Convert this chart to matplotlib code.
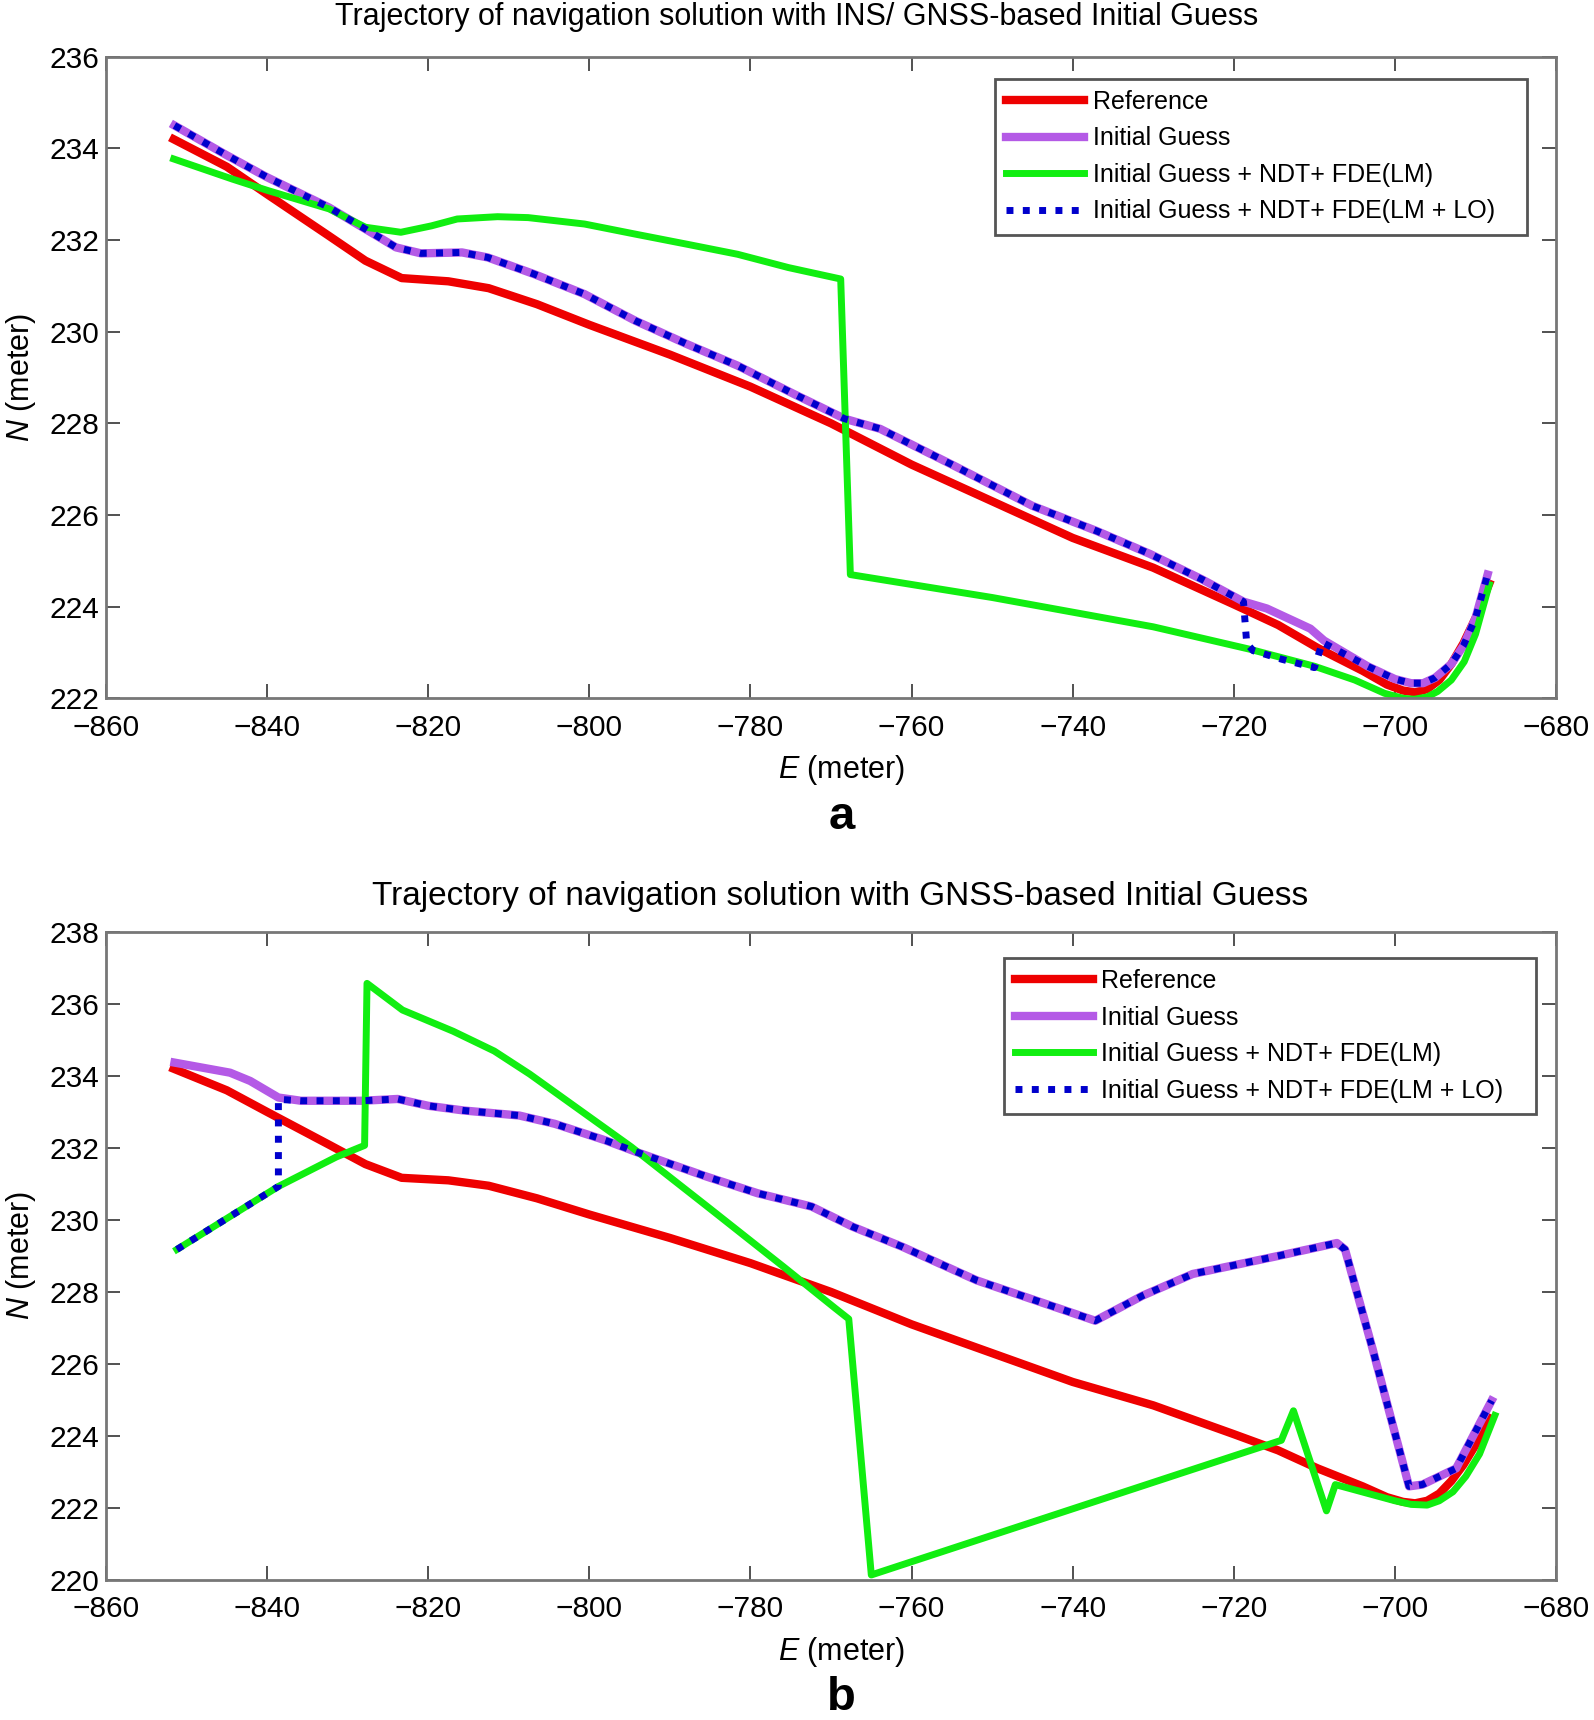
import matplotlib
matplotlib.use('Agg')
import matplotlib.pyplot as plt

plt.rcParams['font.family'] = ['Liberation Sans', 'DejaVu Sans']
plt.rcParams['mathtext.fontset'] = 'custom'
plt.rcParams['mathtext.it'] = 'Liberation Sans:italic'
plt.rcParams['mathtext.rm'] = 'Liberation Sans'

# ---- reference trajectory (same in both panels)
ref_e = [-851.6, -845, -840, -832.4, -827.8, -823.3, -817.5, -812.5, -806.5, -800,
         -790, -780, -770, -760, -750, -740, -730, -720, -714.5, -709.6,
         -704, -701, -699, -697.5, -696, -694.5, -693, -691.5, -690, -688.3]
ref_n = [234.2, 233.6, 233.0, 232.1, 231.55, 231.17, 231.1, 230.95, 230.6, 230.15,
         229.5, 228.8, 228.0, 227.1, 226.3, 225.5, 224.85, 224.05, 223.6, 223.1,
         222.6, 222.3, 222.17, 222.13, 222.2, 222.4, 222.75, 223.2, 223.75, 224.5]

# ---- panel a: INS/GNSS initial guess
a_guess_e = [-851.5, -845, -840, -832.3, -827.8, -824, -820.9, -815.8, -812.6, -806.9,
             -800.6, -794.3, -787.9, -781.6, -774.6, -768.3, -763.9, -755, -745, -737,
             -730.4, -724, -718.8, -715.9, -710.5, -708.8, -703.4, -700, -698, -696.5,
             -695, -693, -691.5, -690, -688.5]
a_guess_n = [234.5, 233.85, 233.37, 232.71, 232.24, 231.84, 231.71, 231.73, 231.62, 231.26,
             230.82, 230.24, 229.73, 229.26, 228.64, 228.1, 227.88, 227.1, 226.2, 225.65,
             225.15, 224.6, 224.11, 223.96, 223.52, 223.26, 222.7, 222.42, 222.33, 222.33,
             222.45, 222.75, 223.15, 223.75, 224.7]
a_lm_e = [-851.6, -844.3, -839.9, -832.3, -827.8, -823.4, -819.6, -816.4, -811.4, -807.6,
          -800.6, -794.3, -787.9, -781.6, -775.3, -768.8, -767.6, -750, -730, -718,
          -710, -705, -701.3, -699, -697.6, -696, -694.7, -693, -691.4, -690, -688.3]
a_lm_n = [233.77, 233.33, 233.08, 232.68, 232.28, 232.17, 232.31, 232.46, 232.51, 232.49,
          232.35, 232.13, 231.91, 231.69, 231.4, 231.15, 224.7, 224.2, 223.56, 223.07,
          222.7, 222.4, 222.11, 222.0, 221.98, 222.03, 222.15, 222.4, 222.8, 223.4, 224.48]
a_lo_e = [-851.5, -845, -840, -832.3, -827.8, -824, -820.9, -815.8, -812.6, -806.9,
          -800.6, -794.3, -787.9, -781.6, -774.6, -768.3, -763.9, -755, -745, -737,
          -730.4, -724, -718.8, -718.4, -717.6, -714, -710, -709, -703.4, -700,
          -698, -696.5, -695, -693, -691.5, -690, -688.5]
a_lo_n = [234.5, 233.85, 233.37, 232.71, 232.24, 231.84, 231.71, 231.73, 231.62, 231.26,
          230.82, 230.24, 229.73, 229.26, 228.64, 228.1, 227.88, 227.1, 226.2, 225.65,
          225.15, 224.6, 224.11, 223.2, 223.04, 222.85, 222.67, 223.22, 222.7, 222.42,
          222.33, 222.33, 222.45, 222.75, 223.15, 223.75, 224.7]

# ---- panel b: GNSS initial guess
b_guess_e = [-851.5, -844.6, -842.1, -838.6, -835.8, -828.2, -823.8, -820, -815.6, -808.7,
             -804.3, -798, -794.2, -785.4, -779.1, -772.4, -767.3, -761.1, -751.9, -737.2,
             -731.3, -725.1, -714.5, -707.2, -706.2, -702.8, -698.25, -696.6, -692.4, -689.5,
             -688.0]
b_guess_n = [234.37, 234.09, 233.86, 233.4, 233.31, 233.31, 233.36, 233.17, 233.04, 232.9,
             232.67, 232.21, 231.89, 231.2, 230.74, 230.37, 229.81, 229.25, 228.32, 227.2,
             227.9, 228.5, 229.0, 229.36, 229.18, 226.44, 222.6, 222.65, 223.1, 224.34,
             224.98]
b_lm_e = [-851.2, -838.6, -831.4, -827.9, -827.6, -823.2, -816.9, -811.8, -807.4, -801.1,
          -794.8, -785.4, -775.9, -769.5, -767.8, -765, -714.1, -712.6, -708.5, -707.4,
          -700, -698, -696, -694.5, -692.8, -691.2, -689.5, -687.6]
b_lm_n = [229.18, 230.93, 231.75, 232.07, 236.57, 235.83, 235.24, 234.69, 234.05, 233.04,
          232.03, 230.38, 228.7, 227.55, 227.25, 220.14, 223.88, 224.7, 221.92, 222.65,
          222.2, 222.1, 222.08, 222.2, 222.45, 222.88, 223.5, 224.57]
b_lo_e = [-851.2, -838.6, -838.6, -835.8, -828.2, -823.8, -820, -815.6, -808.7,
          -804.3, -798, -794.2, -785.4, -779.1, -772.4, -767.3, -761.1, -751.9, -737.2,
          -731.3, -725.1, -714.5, -707.2, -706.2, -702.8, -698.25, -696.6, -692.4, -689.5,
          -688.0]
b_lo_n = [229.18, 230.93, 233.35, 233.31, 233.31, 233.36, 233.17, 233.04, 232.9,
          232.67, 232.21, 231.89, 231.2, 230.74, 230.37, 229.81, 229.25, 228.32, 227.2,
          227.9, 228.5, 229.0, 229.36, 229.18, 226.44, 222.6, 222.65, 223.1, 224.34,
          224.98]

labels = ['Reference', 'Initial Guess', 'Initial Guess + NDT+ FDE(LM)',
          'Initial Guess + NDT+ FDE(LM + LO)']
c_ref = '#ee0000'
c_guess = '#b45ae6'
c_lm = '#11ee11'
c_lo = '#0000cc'

fig = plt.figure(figsize=(15.94, 17.2), dpi=100)
ax1 = fig.add_axes([0.0665, 0.594, 0.9097, 0.373])
ax2 = fig.add_axes([0.0665, 0.0814, 0.9097, 0.3768])


def draw(ax, ge, gn, le, ln, oe, on, ylim, leg_anchor):
    ax.plot(ref_e, ref_n, color=c_ref, lw=6, label=labels[0], solid_joinstyle='round')
    ax.plot(ge, gn, color=c_guess, lw=6, label=labels[1], solid_joinstyle='round')
    ax.plot(le, ln, color=c_lm, lw=5, label=labels[2], solid_joinstyle='round')
    ax.plot(oe, on, color=c_lo, lw=5, linestyle=(0, (1, 1.35)), label=labels[3])
    ax.set_xlim(-860, -680)
    ax.set_ylim(*ylim)
    ax.set_xticks(range(-860, -679, 20))
    ax.set_yticks(range(ylim[0], ylim[1] + 1, 2))
    ax.set_xticklabels(['\u2212%d' % abs(v) for v in range(-860, -679, 20)])
    ax.tick_params(direction='in', length=10, width=1.2, top=True, right=True,
                   labelsize=21.5, color='#333333', pad=5)
    ax.tick_params(axis='x', pad=11)
    for s in ax.spines.values():
        s.set_color('#777777')
        s.set_linewidth(2)
    ax.set_xlabel('$E$ (meter)', fontsize=22)
    ax.set_ylabel('$N$ (meter)', fontsize=22)
    ax.xaxis.set_label_coords(0.507, -0.085)
    ax.yaxis.set_label_coords(-0.047, 0.5)
    # trailing spaces give the wide right margin of the original legend box
    leg = ax.legend([l for l in ax.get_lines()], [t + '   ' for t in labels],
                    loc='upper right', bbox_to_anchor=leg_anchor, fontsize=18,
                    handlelength=3.1, handletextpad=0.35, labelspacing=0.5,
                    fancybox=False, framealpha=1, borderpad=0.45, borderaxespad=0)
    leg.get_frame().set_edgecolor('#555555')
    leg.get_frame().set_linewidth(2)


draw(ax1, a_guess_e, a_guess_n, a_lm_e, a_lm_n, a_lo_e, a_lo_n, (222, 236), (0.98, 0.966))
draw(ax2, b_guess_e, b_guess_n, b_lm_e, b_lm_n, b_lo_e, b_lo_n, (220, 238), (0.986, 0.96))

fig.text(0.5, 0.99, 'Trajectory of navigation solution with INS/ GNSS-based Initial Guess',
         ha='center', va='center', fontsize=22)
fig.text(0.527, 0.479, 'Trajectory of navigation solution with GNSS-based Initial Guess',
         ha='center', va='center', fontsize=24)
fig.text(0.528, 0.525, 'a', ha='center', va='center', fontsize=34, fontweight='bold')
fig.text(0.528, 0.0128, 'b', ha='center', va='center', fontsize=34, fontweight='bold')

fig.savefig('out.png', dpi=100)
